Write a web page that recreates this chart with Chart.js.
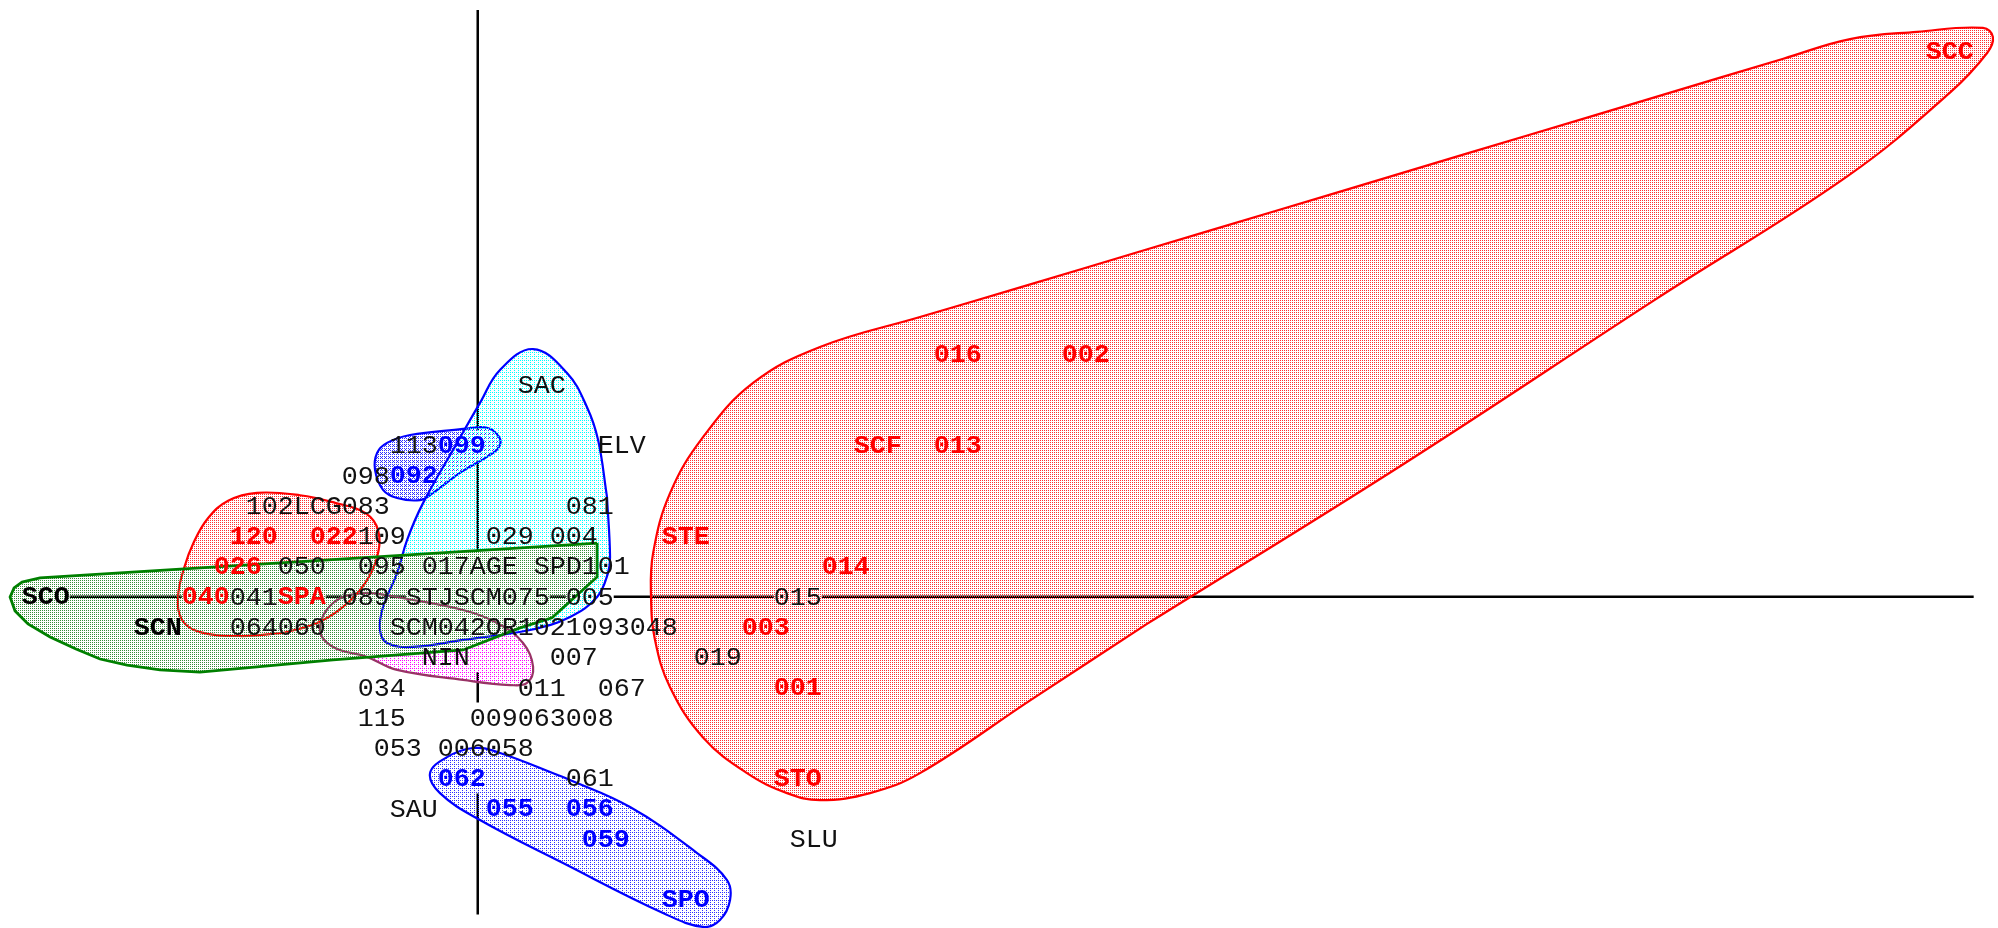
<!DOCTYPE html>
<html>
<head>
<meta charset="utf-8">
<script src="https://cdn.jsdelivr.net/npm/chart.js@4.4.1/dist/chart.umd.min.js"></script>
<style>
  html, body { margin: 0; padding: 0; background: #ffffff; overflow: hidden; }
  #wrap { width: 1998px; height: 928px; }
</style>
</head>
<body>
<div id="wrap"><canvas id="plan" width="1998" height="928"></canvas></div>
<script>
// Factorial plane (axis 1 horizontal, axis 2 vertical), in character-grid units:
// one unit on x = one text column, one unit on y = one text line.

// ---- point labels, by printing style ----
const redNames = ['SCC', '016', '002', 'SCF', '013', 'STE', '014', '003', '001', 'STO', '120', '022', '026', '040', 'SPA'];
const redCols  = [91, 29, 37, 24, 29, 12, 22, 17, 19, 19, -15, -10, -16, -18, -12];
const redRows  = [18, 8, 8, 5, 5, 2, 1, -1, -3, -6, 2, 2, 1, 0, 0];

const blueNames = ['099', '092', '062', '055', '056', '059', 'SPO'];
const blueCols  = [-2, -5, -2, 1, 6, 7, 12];
const blueRows  = [5, 4, -6, -7, -7, -8, -10];

const boldNames = ['SCO', 'SCN'];
const boldCols  = [-28, -21];
const boldRows  = [0, -1];

const plainNames = ['SAC', '113', 'ELV', '098', '102', 'LCG', '083', '081', '109', '029', '004',
                    '050', '095', '017', 'AGE', 'SPD', '101',
                    '041', '089', 'STJ', 'SCM', '075', '005', '015',
                    '064', '060', 'SCM', '042', 'OR1', '021', '093', '048',
                    'NIN', '007', '019', '034', '011', '067',
                    '115', '009', '063', '008', '053', '006', '058', '061', 'SAU', 'SLU'];
const plainCols  = [3, -5, 8, -8, -14, -11, -8, 6, -7, 1, 5,
                    -12, -7, -3, 0, 4, 7,
                    -15, -8, -4, -1, 2, 6, 19,
                    -15, -12, -5, -2, 1, 4, 7, 10,
                    -3, 5, 14, -7, 3, 8,
                    -7, 0, 3, 6, -6, -2, 1, 6, -5, 20];
const plainRows  = [7, 5, 5, 4, 3, 3, 3, 3, 2, 2, 2,
                    1, 1, 1, 1, 1, 1,
                    0, 0, 0, 0, 0, 0, 0,
                    -1, -1, -1, -1, -1, -1, -1, -1,
                    -2, -2, -2, -3, -3, -3,
                    -4, -4, -4, -4, -5, -5, -5, -6, -7, -8];

// ---- axes: drawn pieces (the axes stop where a label sits on them) ----
const axis1Pieces = [[-25.5, -18.5], [-9.5, -8.5], [-5.5, -4.5], [4.5, 5.5], [8.5, 18.5], [21.5, 93.5]];
const axis2Pieces = [[19.38, 5.5], [4.5, 1.5], [-2.5, -3.5], [-6.5, -10.5]];

// ---- group envelopes (closed outlines, each starting on a straight stretch) ----
const hullSTO = [[41.83, -0.9], [57.77, 4.35], [73.64, 9.83], [85.64, 13.9], [92.0, 16.64], [94.34, 17.96],
                 [94.7, 18.49], [94.08, 18.79], [89.96, 18.66], [85.77, 18.42], [81.6, 17.77], [73.6, 16.5],
                 [65.7, 15.25], [57.8, 14.0], [49.8, 12.73], [41.8, 11.47], [33.8, 10.20], [27.64, 9.24],
                 [21.39, 8.25], [17.21, 7.06], [14.08, 5.27], [12.02, 3.42], [10.96, 1.44], [10.83, 0],
                 [11.08, -1.43], [12.02, -2.99], [14.08, -4.65], [16.83, -5.83], [19.33, -6.49], [21.39, -6.72],
                 [24.52, -6.49], [27.64, -5.83], [34.6, -3.4]];
const hullSAC = [[8.08, 3.29], [8.27, 1.31], [8.14, 0.78], [7.46, -0.01], [5.77, -0.67], [3.27, -1.10],
                 [-0.92, -1.43], [-4.04, -1.66], [-5.67, -1.53], [-6.11, -1.10], [-5.92, -0.34], [-5.04, 0.78],
                 [-4.42, 1.87], [-3.42, 3.09], [-1.29, 5.08], [0.14, 6.40], [1.39, 7.49], [3.46, 8.18],
                 [5.58, 7.39], [6.83, 6.26], [7.52, 5.18]];
const hullELV = [[-0.92, 5.54], [0.58, 5.58], [1.33, 5.28], [1.33, 4.95], [0.58, 4.62], [-1.11, 4.09],
                 [-2.79, 3.43], [-3.61, 3.19], [-5.04, 3.26], [-5.92, 3.53], [-6.42, 4.19], [-6.29, 4.75],
                 [-5.67, 5.08], [-4.23, 5.34]];
const hullSPA = [[-12.17, -1.20], [-14.86, -1.30], [-17.36, -1.17], [-18.48, -0.77], [-18.73, -0.01],
                 [-18.35, 0.95], [-17.75, 1.80], [-16.85, 2.60], [-15.60, 3.17], [-13.80, 3.43], [-11.11, 3.35],
                 [-8.92, 3.10], [-7.04, 2.77], [-6.23, 2.20], [-6.29, 1.31], [-7.04, 0.45], [-8.42, -0.34],
                 [-10.04, -0.87]];
const hullNIN = [[-5.04, -0.01], [-0.92, -0.44], [1.21, -0.87], [2.83, -1.53], [3.46, -2.32], [3.08, -2.85],
                 [2.02, -2.92], [-0.92, -2.75], [-5.04, -2.42], [-6.92, -1.99], [-9.04, -1.66], [-9.86, -1.10],
                 [-9.04, -0.21], [-7.17, 0.12]];
const hullSCO = [[7.46, 1.77], [7.46, 0.65], [4.64, -0.70], [2.64, -1.03], [-0.92, -1.76], [-9.04, -2.09],
                 [-17.36, -2.49], [-19.86, -2.42], [-21.92, -2.26], [-23.61, -2.06], [-25.11, -1.73],
                 [-26.73, -1.33], [-28.11, -0.90], [-28.92, -0.47], [-29.23, -0.01], [-28.98, 0.29],
                 [-28.48, 0.48], [-27.36, 0.62]];
const hullSPO = [[5.33, -5.96], [9.52, -6.95], [13.71, -8.47], [15.58, -9.36], [15.77, -10.02], [15.14, -10.68],
                 [14.08, -10.91], [11.58, -10.45], [5.33, -8.80], [0.14, -7.38], [-2.36, -6.49], [-2.98, -5.83],
                 [-1.92, -5.30], [-0.29, -5.00], [1.21, -5.13]];

// ---- drawing helpers ----
const BAYER = [[0, 8, 2, 10], [12, 4, 14, 6], [3, 11, 1, 9], [15, 7, 13, 5]];
function dither(color, level) {
  const tile = document.createElement('canvas');
  tile.width = 4; tile.height = 4;
  const g = tile.getContext('2d');
  g.fillStyle = color;
  for (let j = 0; j < 4; j++) for (let i = 0; i < 4; i++) if (BAYER[j][i] < level) g.fillRect(i, j, 1, 1);
  return g.createPattern(tile, 'repeat');
}

function closed(pts) {
  const d = pts.map(p => ({ x: p[0], y: p[1] }));
  d.push({ x: pts[0][0], y: pts[0][1] });
  return d;
}

function hull(pts, stroke, pattern, tension, width) {
  return {
    data: closed(pts), borderColor: stroke, borderWidth: width, backgroundColor: pattern,
    fill: 'shape', tension: tension, pointRadius: 0, showLine: true
  };
}

function labelSet(names, cols, rows, color, weight) {
  return {
    data: names.map((n, i) => ({ x: cols[i], y: rows[i] })),
    texts: names, textColor: color, textWeight: weight,
    showLine: false, pointRadius: 0, fill: false, borderWidth: 0
  };
}

const datasets = [
  hull(hullSTO, '#ff0000', dither('#ff3030', 4), 0.4, 2.2),
  hull(hullSCO, '#008000', dither('#3a8a3a', 4), 0, 2.8),
  hull(hullSPA, '#ff0000', dither('#ff3030', 4), 0.4, 2.2),
  hull(hullSAC, '#0000ff', dither('#00ffff', 3), 0.4, 2.2),
  hull(hullNIN, '#993366', dither('#ff00ff', 3), 0.4, 2.2),
  hull(hullELV, '#0000ff', dither('#3030ff', 5), 0.4, 2.2),
  hull(hullSPO, '#0000ff', dither('#3030ff', 3), 0.4, 2.2)
];
axis1Pieces.forEach(p => datasets.push({
  data: [{ x: p[0], y: 0 }, { x: p[1], y: 0 }], borderColor: '#000000', borderWidth: 2.5,
  pointRadius: 0, fill: false, tension: 0, showLine: true
}));
axis2Pieces.forEach(p => datasets.push({
  data: [{ x: 0, y: p[0] }, { x: 0, y: p[1] }], borderColor: '#000000', borderWidth: 2.5,
  pointRadius: 0, fill: false, tension: 0, showLine: true
}));
datasets.push(labelSet(plainNames, plainCols, plainRows, '#111111', 'normal'));
datasets.push(labelSet(boldNames, boldCols, boldRows, '#000000', 'bold'));
datasets.push(labelSet(redNames, redCols, redRows, '#ff0000', 'bold'));
datasets.push(labelSet(blueNames, blueCols, blueRows, '#0000ff', 'bold'));

// Writes each label starting in its own text cell.
const cellLabels = {
  id: 'cellLabels',
  afterDatasetsDraw(chart) {
    const ctx = chart.ctx;
    const xs = chart.scales.x;
    const cell = xs.getPixelForValue(1) - xs.getPixelForValue(0);
    const size = cell / 0.6;
    chart.data.datasets.forEach((ds, i) => {
      if (!ds.texts) return;
      const meta = chart.getDatasetMeta(i);
      ctx.save();
      ctx.font = ds.textWeight + ' ' + size.toFixed(2) + 'px "Liberation Mono", "DejaVu Sans Mono", monospace';
      ctx.fillStyle = ds.textColor;
      ctx.textAlign = 'left';
      ctx.textBaseline = 'middle';
      meta.data.forEach((el, j) => ctx.fillText(ds.texts[j], el.x - cell / 2, el.y + 1));
      ctx.restore();
    });
  }
};

new Chart(document.getElementById('plan'), {
  type: 'line',
  data: { datasets },
  options: {
    responsive: false,
    animation: false,
    events: [],
    layout: { padding: 0 },
    plugins: { legend: { display: false }, tooltip: { enabled: false } },
    scales: {
      x: { type: 'linear', min: -29.86, max: 95.02, display: false },
      y: { type: 'linear', min: -10.945, max: 19.71, display: false }
    }
  },
  plugins: [cellLabels]
});
</script>
</body>
</html>
